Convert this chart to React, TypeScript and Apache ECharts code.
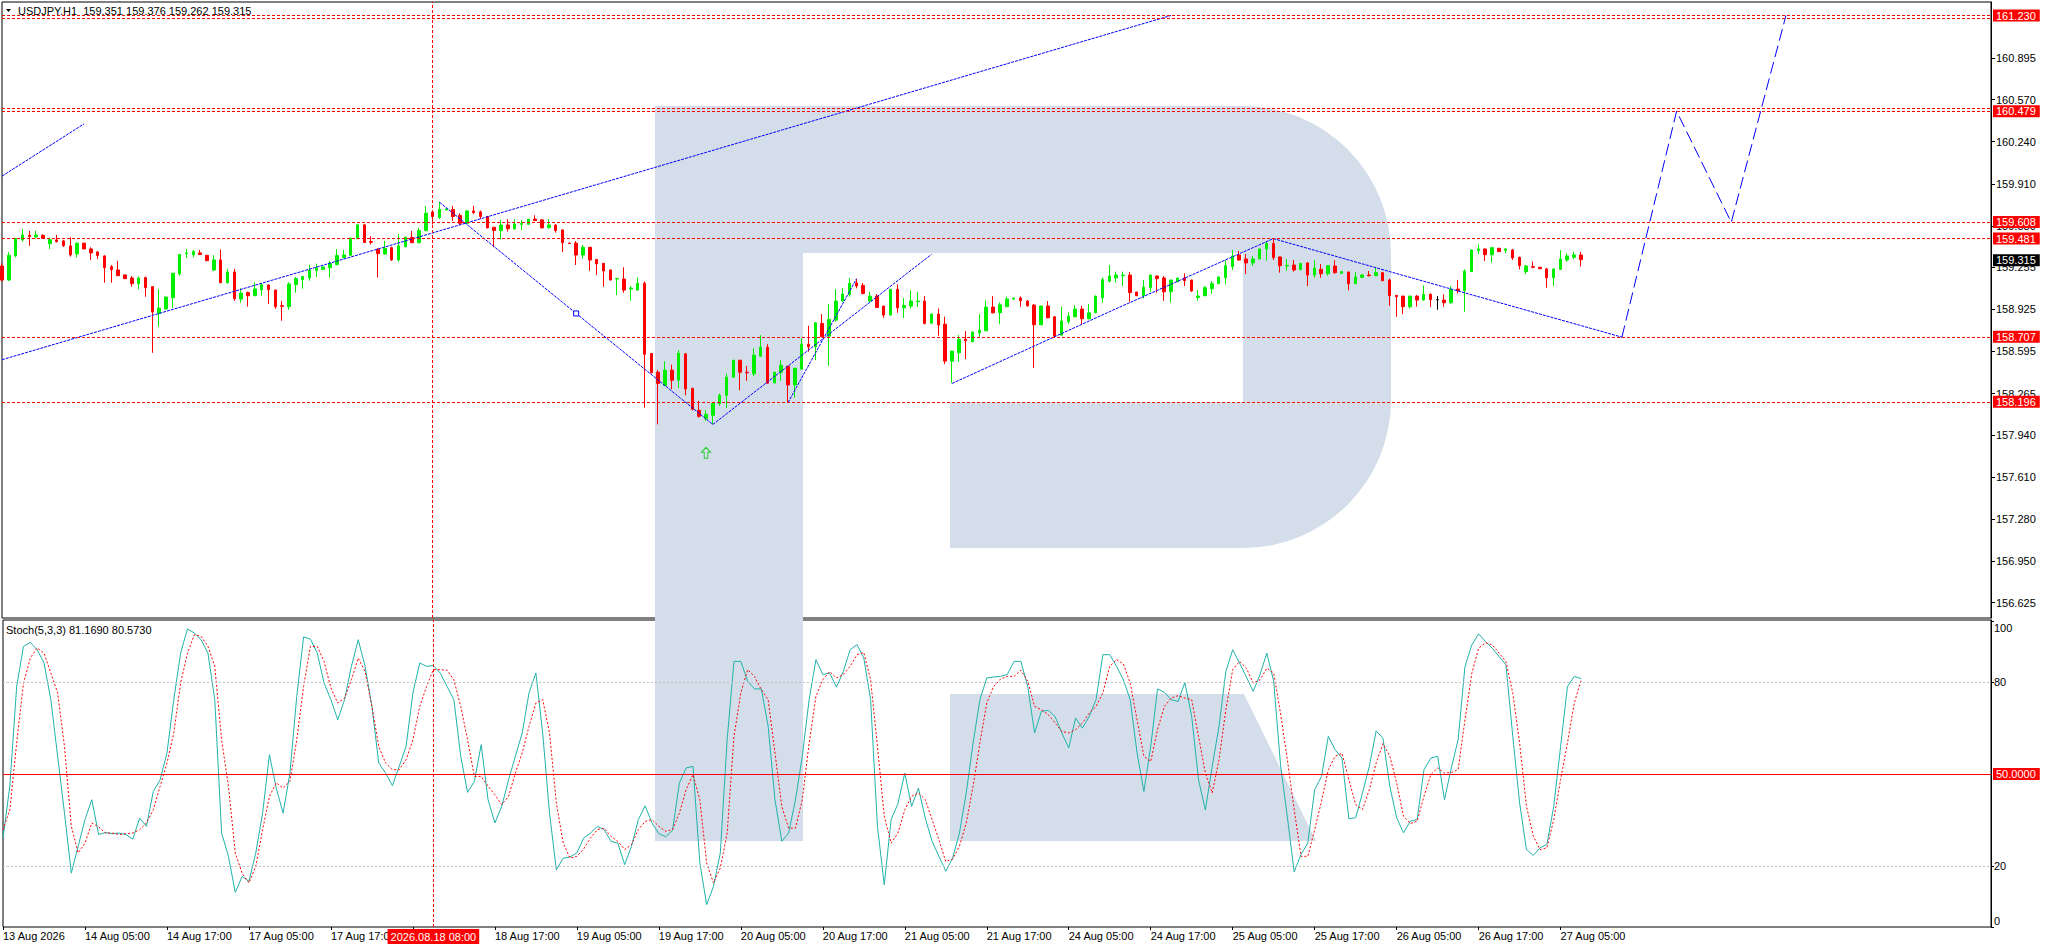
import React, { useEffect, useRef } from "react";
import * as echarts from "echarts";

// ---------- DATA ----------
const symbolName = "USDJPY.H1";

// [open, close, low, high] per H1 bar, starting 13 Aug 2026 17:00
const candles: number[][] = [
  [159.265,159.155,159.142,159.286],[159.155,159.349,159.148,159.375],[159.344,159.480,159.333,159.485],[159.470,159.509,159.457,159.556],
  [159.506,159.496,159.423,159.541],[159.493,159.509,159.483,159.541],[159.506,159.483,159.480,159.512],[159.441,159.472,159.399,159.488],
  [159.470,159.457,159.449,159.509],[159.462,159.425,159.415,159.470],[159.423,159.352,159.339,159.491],[159.360,159.444,159.333,159.449],
  [159.444,159.399,159.396,159.449],[159.399,159.368,159.313,159.412],[159.375,159.347,159.320,159.383],[159.344,159.252,159.134,159.349],
  [159.260,159.237,159.134,159.273],[159.234,159.189,159.187,159.305],[159.195,159.166,159.163,159.197],[159.171,159.127,159.103,159.187],
  [159.127,159.171,159.082,159.182],[159.174,159.095,159.024,159.182],[159.103,158.904,158.584,159.108],[158.893,158.935,158.789,159.084],
  [158.928,159.022,158.925,159.024],[159.017,159.208,158.938,159.210],[159.203,159.355,159.187,159.360],[159.362,159.368,159.328,159.399],
  [159.352,159.378,159.333,159.391],[159.368,159.355,159.352,159.391],[159.349,159.307,159.305,159.352],[159.234,159.313,159.224,159.349],
  [159.313,159.134,159.132,159.394],[159.134,159.218,159.127,159.242],[159.218,159.009,158.991,159.242],[159.006,159.053,158.977,159.090],
  [159.056,159.032,158.946,159.064],[159.032,159.085,159.030,159.137],[159.079,159.119,159.032,159.129],[159.116,159.079,158.967,159.119],
  [159.077,158.946,158.930,159.079],[158.954,158.949,158.836,158.991],[158.946,159.124,158.922,159.137],[159.119,159.166,159.056,159.179],
  [159.158,159.182,159.087,159.187],[159.171,159.234,159.150,159.276],[159.229,159.250,159.179,159.284],[159.239,159.258,159.237,159.260],
  [159.252,159.284,159.174,159.305],[159.276,159.347,159.271,159.399],[159.331,159.352,159.326,159.391],[159.349,159.483,159.344,159.488],
  [159.480,159.588,159.475,159.590],[159.588,159.449,159.446,159.590],[159.457,159.451,159.433,159.499],[159.396,159.362,159.174,159.404],
  [159.360,159.404,159.352,159.462],[159.409,159.313,159.305,159.417],[159.313,159.423,159.300,159.517],[159.417,159.491,159.412,159.496],
  [159.490,159.448,159.445,159.540],[159.448,159.543,159.443,159.566],[159.543,159.679,159.537,159.736],[159.689,159.653,159.592,159.692],
  [159.645,159.710,159.634,159.768],[159.705,159.713,159.702,159.716],[159.708,159.653,159.619,159.736],[159.661,159.600,159.587,159.679],
  [159.600,159.697,159.595,159.705],[159.697,159.684,159.674,159.736],[159.689,159.653,159.632,159.700],[159.653,159.564,159.561,159.658],
  [159.569,159.543,159.412,159.572],[159.543,159.587,159.475,159.627],[159.587,159.558,159.535,159.632],[159.556,159.595,159.553,159.632],
  [159.592,159.598,159.548,159.627],[159.592,159.632,159.590,159.634],[159.634,159.621,159.619,159.663],[159.627,159.564,159.561,159.629],
  [159.566,159.587,159.558,159.632],[159.587,159.543,159.527,159.592],[159.548,159.448,159.375,159.551],[159.445,159.441,159.438,159.448],
  [159.445,159.351,159.273,159.461],[159.351,159.412,159.323,159.430],[159.412,159.312,159.228,159.414],[159.317,159.281,159.194,159.320],
  [159.286,159.226,159.103,159.289],[159.234,159.155,159.152,159.236],[159.163,159.168,159.037,159.171],[159.163,159.076,159.055,159.255],
  [159.084,159.092,158.993,159.108],[159.076,159.129,159.074,159.176],[159.129,158.573,158.154,159.145],[158.579,158.427,158.424,158.581],
  [158.432,158.343,158.023,158.448],[158.327,158.448,158.325,158.518],[158.448,158.369,158.298,158.492],[158.369,158.581,158.309,158.605],
  [158.576,158.301,158.251,158.581],[158.306,158.141,158.133,158.309],[158.133,158.086,158.076,158.207],[158.068,158.102,158.050,158.133],
  [158.094,158.186,158.023,158.191],[158.186,158.251,158.167,158.264],[158.251,158.393,158.152,158.422],[158.393,158.526,158.390,158.529],
  [158.526,158.432,158.291,158.529],[158.432,158.427,158.364,158.482],[158.419,158.566,158.401,158.621],[158.558,158.628,158.553,158.723],
  [158.628,158.346,158.343,158.652],[158.348,158.432,158.346,158.435],[158.432,158.487,158.364,158.526],[158.479,158.332,158.194,158.482],
  [158.332,158.463,158.233,158.466],[158.456,158.652,158.453,158.699],[158.652,158.631,158.592,158.796],[158.631,158.820,158.527,158.822],
  [158.815,158.710,158.707,158.888],[158.715,158.846,158.482,158.967],[158.841,158.990,158.828,159.084],[158.990,159.045,158.985,159.092],
  [159.040,159.129,159.024,159.171],[159.132,159.108,159.090,159.166],[159.113,159.050,159.043,159.132],[158.990,159.029,158.985,159.063],
  [159.029,158.940,158.935,159.045],[158.951,158.880,158.859,158.953],[158.880,159.082,158.878,159.084],[159.082,158.938,158.898,159.121],
  [158.938,158.956,158.859,159.014],[158.951,158.990,158.930,159.074],[158.985,158.990,158.943,159.061],[158.990,158.815,158.807,159.029],
  [158.817,158.888,158.815,158.891],[158.888,158.802,158.718,158.932],[158.809,158.519,158.495,158.867],[158.519,158.597,158.348,158.600],
  [158.584,158.691,158.511,158.723],[158.691,158.678,158.534,158.754],[158.671,158.747,158.668,158.749],[158.741,158.762,158.710,158.888],
  [158.757,158.943,158.754,158.995],[158.943,158.898,158.893,159.029],[158.898,158.961,158.809,158.980],[158.946,159.006,158.943,159.024],
  [159.006,159.014,159.003,159.016],[159.014,158.993,158.946,159.027],[158.990,158.953,158.946,158.998],[158.959,158.804,158.466,158.967],
  [158.804,158.951,158.802,158.953],[158.951,158.859,158.856,158.990],[158.867,158.715,158.712,158.870],[158.723,158.833,158.715,158.946],
  [158.828,158.872,158.809,158.901],[158.867,158.927,158.864,158.959],[158.927,158.851,158.809,158.953],[158.851,158.898,158.846,158.967],
  [158.898,159.029,158.896,159.032],[159.016,159.158,158.977,159.176],[159.147,159.187,159.134,159.273],[159.171,159.194,159.134,159.221],
  [159.189,159.194,159.108,159.221],[159.194,159.056,158.985,159.218],[159.061,159.032,159.029,159.063],[159.032,159.100,159.011,159.155],
  [159.095,159.194,159.063,159.197],[159.187,159.166,159.056,159.189],[159.171,159.063,158.993,159.187],[159.063,159.155,158.977,159.158],
  [159.142,159.171,159.139,159.173],[159.171,159.150,159.108,159.208],[159.155,159.069,159.063,159.158],[159.019,159.029,158.993,159.077],
  [159.032,159.095,159.029,159.108],[159.087,159.126,159.048,159.147],[159.126,159.179,159.124,159.181],[159.173,159.268,159.121,159.310],
  [159.260,159.344,159.234,159.391],[159.352,159.312,159.310,159.383],[159.320,159.289,159.202,159.359],[159.289,159.320,159.265,159.344],
  [159.320,159.399,159.318,159.401],[159.399,159.441,159.307,159.456],[159.441,159.331,159.312,159.483],[159.336,159.268,159.213,159.339],
  [159.265,159.270,159.228,159.320],[159.273,159.234,159.221,159.312],[159.236,159.286,159.234,159.289],[159.289,159.194,159.108,159.294],
  [159.194,159.249,159.173,159.310],[159.239,159.205,159.173,159.281],[159.205,159.268,159.189,159.273],[159.265,159.213,159.205,159.310],
  [159.208,159.221,159.205,159.223],[159.218,159.126,159.074,159.221],[159.126,159.179,159.124,159.218],[159.176,159.194,159.173,159.202],
  [159.194,159.189,159.184,159.226],[159.189,159.213,159.187,159.252],[159.213,159.150,159.147,159.215],[159.155,159.032,158.953,159.166],
  [159.035,159.024,158.867,159.037],[159.029,158.946,158.888,159.032],[158.946,159.029,158.932,159.032],[159.029,158.998,158.946,159.037],
  [158.998,159.043,158.993,159.113],[159.043,159.001,158.943,159.050],[159.001,159.001,158.922,159.029],[158.998,158.977,158.946,159.043],
  [158.977,159.082,158.969,159.108],[159.084,159.071,159.050,159.155],[159.071,159.226,158.906,159.239],[159.221,159.391,159.218,159.394],
  [159.386,159.399,159.359,159.435],[159.399,159.354,159.304,159.401],[159.354,159.409,159.291,159.412],[159.404,159.378,159.375,159.407],
  [159.388,159.399,159.365,159.404],[159.391,159.328,159.312,159.399],[159.333,159.268,159.239,159.339],[159.221,159.265,159.202,159.273],
  [159.260,159.255,159.247,159.299],[159.255,159.244,159.242,159.257],[159.242,159.173,159.095,159.249],[159.173,159.242,159.108,159.244],
  [159.239,159.320,159.234,159.391],[159.312,159.344,159.299,159.365],[159.333,159.352,159.318,159.378],[159.351,159.315,159.262,159.376],
];

// Stochastic(5,3,3): main line (%K) and signal line (%D)
const stochK: number[] = [
  29.1,46.0,78.6,91.7,93.0,90.6,86.3,74.3,55.8,37.2,17.6,26.4,35.1,41.6,30.2,30.9,30.5,30.7,30.2,28.7,
  35.6,32.9,44.3,48.1,56.9,74.3,89.5,97.4,96.1,93.9,89.5,74.3,30.7,23.1,11.3,16.5,14.9,24.2,37.2,56.3,
  45.4,37.2,50.3,75.4,94.8,94.1,89.5,79.7,74.3,67.7,74.3,85.2,93.9,85.2,72.1,53.6,50.3,46.2,52.5,59.0,
  76.5,86.3,85.2,85.4,83.0,78.6,74.3,55.8,44.0,47.6,59.6,41.6,34.0,39.4,48.1,55.8,63.4,76.5,83.0,63.4,
  37.2,18.7,22.5,22.9,24.2,29.1,30.7,32.9,31.8,28.0,27.4,20.4,26.4,35.1,39.6,34.0,30.5,29.5,31.5,47.0,
  52.0,52.5,21.0,7.3,13.3,24.2,61.2,86.8,86.8,80.3,77.8,77.8,65.6,41.6,28.0,30.7,41.6,55.8,74.3,87.4,
  82.5,83.0,78.4,83.5,90.6,92.3,87.9,74.3,32.9,13.8,35.1,40.3,50.3,39.4,45.4,35.6,28.0,23.1,18.2,22.5,
  30.7,43.8,60.1,74.3,81.4,81.7,81.9,82.5,86.8,86.8,78.6,63.4,70.5,70.8,68.8,63.4,58.5,68.3,65.0,68.8,
  74.3,89.0,89.0,85.2,80.8,74.3,56.9,44.3,59.0,77.8,76.7,74.3,73.7,79.9,68.8,48.1,38.3,52.5,65.6,83.5,
  90.6,86.3,81.7,77.0,82.5,89.5,80.3,53.0,36.0,18.0,23.7,27.5,44.9,49.2,62.3,57.9,55.2,35.4,35.7,43.8,
  52.5,64.1,61.7,46.0,35.7,30.8,34.6,35.1,51.4,55.2,55.8,41.6,52.0,61.2,85.1,92.2,95.8,93.3,91.1,88.4,
  85.7,62.3,40.5,25.3,23.4,25.9,27.0,39.5,59.0,78.6,81.9,81.169,
];
const stochD: number[] = [
  31.8,38.3,60.1,79.7,87.9,91.2,89.5,83.0,76.5,59.0,32.9,24.2,27.4,34.0,32.7,30.7,30.7,30.2,30.5,30.7,
  31.8,34.0,38.3,46.0,53.6,63.4,79.7,89.5,95.5,95.0,91.7,85.2,61.2,46.0,24.2,17.6,14.4,19.8,31.8,42.7,
  47.1,45.4,47.6,61.2,78.6,91.7,91.7,86.8,78.1,73.2,74.8,80.8,87.9,83.5,72.1,59.0,53.6,51.4,51.4,54.7,
  61.2,72.1,78.6,84.1,84.1,83.9,80.8,72.1,61.2,49.2,49.2,46.0,43.2,40.0,42.7,50.3,56.9,65.6,73.2,74.3,
  63.4,40.5,27.4,22.5,23.1,25.5,29.1,31.8,32.3,29.6,28.0,25.3,26.9,31.8,34.5,35.1,32.9,31.3,31.8,37.2,
  44.9,49.8,41.6,20.9,14.4,19.3,30.7,62.3,76.5,84.1,81.9,77.6,74.3,56.9,39.4,32.3,32.3,41.6,60.1,75.4,
  80.8,83.5,81.4,82.5,85.2,89.0,89.7,80.8,59.0,36.2,27.4,30.7,38.3,42.7,43.8,41.6,35.1,28.5,21.4,22.2,
  26.4,34.0,46.0,60.1,73.2,78.6,81.0,81.9,81.9,83.9,80.3,72.1,71.0,69.4,66.7,63.9,63.4,64.5,66.7,69.9,
  72.1,76.5,85.2,87.4,86.0,79.7,67.7,55.8,54.1,64.5,72.1,74.8,75.6,74.8,74.3,62.3,50.3,43.8,54.7,71.0,
  84.1,86.8,84.6,79.7,80.8,84.6,83.0,69.9,54.7,38.4,23.1,23.1,31.8,41.1,51.4,55.8,56.8,48.2,40.0,38.4,
  44.9,53.6,59.9,55.8,47.1,36.2,33.8,34.6,42.7,49.8,52.0,50.3,50.5,51.4,67.7,82.9,91.1,92.9,92.2,89.5,
  86.7,76.4,60.1,39.5,29.7,25.3,25.9,35.1,48.2,60.1,73.2,80.573,
];

const priceTicks = [156.625,156.950,157.280,157.610,157.940,158.265,158.595,158.925,159.255,159.580,159.910,160.240,160.570,160.895];
const stochTicks = [0, 20, 80, 100];
const xTickLabels = [
  "13 Aug 2026","14 Aug 05:00","14 Aug 17:00","17 Aug 05:00","17 Aug 17:00","18 Aug 05:00","18 Aug 17:00",
  "19 Aug 05:00","19 Aug 17:00","20 Aug 05:00","20 Aug 17:00","21 Aug 05:00","21 Aug 17:00","24 Aug 05:00",
  "24 Aug 17:00","25 Aug 05:00","25 Aug 17:00","26 Aug 05:00","26 Aug 17:00","27 Aug 05:00",
];

// horizontal levels (labelled) and their twin lines
const levels = [161.230, 160.479, 159.608, 159.481, 158.707, 158.196];
const twinLevels = [161.210, 160.495];
const currentPrice = 159.315;
const crosshairIndex = 63;
const crosshairLabel = "2026.08.18 08:00";

// drawn objects: [bar index, price]
const trendLong = [[0, 158.53], [171, 161.23]];
const trendShort = [[0, 159.97], [12, 160.38]];
const zig1 = [[64, 159.766], [84, 158.893], [104, 158.022]];
const zig2 = [[104, 158.022], [136, 159.357]];
const zig3 = [[115, 158.194], [125, 159.163]];
const zig4 = [[139, 158.344], [163, 158.93], [186, 159.48]];
const zig5 = [[186, 159.48], [211, 159.10], [237, 158.707]];
const forecast = [[237, 158.707], [241, 159.593], [245, 160.479], [253, 159.608], [257, 160.419], [261, 161.230]];
const arrowUp = [[103, 157.80]];

const TOTAL_SLOTS = 292;

// ---------- HELPERS ----------
const MONTHS = ["Jan","Feb","Mar","Apr","May","Jun","Jul","Aug","Sep","Oct","Nov","Dec"];
function buildCategories(n: number): string[] {
  const out: string[] = [];
  let t = Date.UTC(2026, 7, 13, 17);
  for (let i = 0; i < n; i++) {
    const d = new Date(t);
    out.push(`${d.getUTCDate()} ${MONTHS[d.getUTCMonth()]} ${String(d.getUTCHours()).padStart(2, "0")}:00`);
    t += 3600000;
    while ([0, 6].includes(new Date(t).getUTCDay())) t += 3600000;
  }
  return out;
}

const FONT = '"Liberation Sans", Arial, sans-serif';
const LOGO = "#d3deea";
const BLUE = "#0000ff";

export default function App() {
  const ref = useRef<HTMLDivElement>(null);

  useEffect(() => {
    if (!ref.current) return;
    const chart = echarts.init(ref.current, undefined, { renderer: "svg" });
    const categories = buildCategories(TOTAL_SLOTS);
    const last = candles[candles.length - 1];

    const candleData = candles.map((c) =>
      c[0] === c[1]
        ? { value: c, itemStyle: { color: "#000", color0: "#000", borderColor: "#000", borderColor0: "#000" } }
        : c
    );

    const showTick = (i: number) => i % 12 === 0 && i / 12 < xTickLabels.length;
    // the label under the crosshair box is hidden, as in the terminal
    const showLabel = (i: number) => showTick(i) && Math.abs(i - crosshairIndex) > 6;

    const levelLabel = (bg: string, text: string) => ({
      show: true,
      position: "end",
      distance: 2,
      formatter: () => text,
      color: "#fff",
      backgroundColor: bg,
      fontFamily: FONT,
      fontSize: 11,
      lineHeight: 12,
      padding: [0, 4, 0, 3],
    });

    const drawLine = (data: number[][], withSymbols: boolean, dashed: any, name: string) => ({
      name,
      type: "line",
      xAxisIndex: 0,
      yAxisIndex: 0,
      data,
      z: 4,
      silent: true,
      showSymbol: withSymbols,
      symbol: "rect",
      symbolSize: 5,
      itemStyle: { color: "#fff", borderColor: BLUE, borderWidth: 1 },
      lineStyle: { color: BLUE, width: 1, type: dashed },
      clip: true,
    });

    const option: any = {
      animation: false,
      backgroundColor: "#fff",
      grid: [
        { left: 2, top: 2, width: 1989, height: 616, show: true, borderColor: "#000", borderWidth: 1, backgroundColor: "transparent" },
        { left: 2, top: 620, width: 1989, height: 307, show: true, borderColor: "#000", borderWidth: 1, backgroundColor: "transparent" },
      ],
      xAxis: [
        { type: "category", gridIndex: 0, data: categories, boundaryGap: false, show: false },
        {
          type: "category",
          gridIndex: 1,
          data: categories,
          boundaryGap: false,
          axisLine: { show: false },
          axisTick: { show: true, interval: (i: number) => showTick(i), length: 3, lineStyle: { color: "#000" } },
          axisLabel: {
            interval: (i: number) => showLabel(i),
            formatter: (_v: string, i: number) => (showLabel(i) ? xTickLabels[i / 12] : ""),
            align: "left",
            margin: 3,
            color: "#000",
            fontFamily: FONT,
            fontSize: 11,
          },
          splitLine: { show: false },
        },
      ],
      yAxis: [
        {
          type: "value",
          gridIndex: 0,
          position: "right",
          min: 156.504,
          max: 161.336,
          axisLine: { show: true, lineStyle: { color: "#000" } },
          axisTick: { show: true, customValues: priceTicks, length: 4, lineStyle: { color: "#000" } },
          axisLabel: {
            customValues: priceTicks,
            formatter: (v: number) => v.toFixed(3),
            margin: 5,
            color: "#000",
            fontFamily: FONT,
            fontSize: 11,
          },
          splitLine: { show: false },
        },
        {
          type: "value",
          gridIndex: 1,
          position: "right",
          min: 0,
          max: 100.33,
          axisLine: { show: true, lineStyle: { color: "#000" } },
          axisTick: { show: true, customValues: stochTicks, length: 3, lineStyle: { color: "#000" } },
          axisLabel: {
            customValues: stochTicks,
            formatter: (v: number) => (v === 100 ? "{a|100}" : v === 0 ? "{b|0}" : String(v)),
            margin: 3,
            color: "#000",
            fontFamily: FONT,
            fontSize: 11,
            rich: {
              a: { padding: [13, 0, 0, 0], fontFamily: FONT, fontSize: 11, color: "#000" },
              b: { padding: [0, 0, 12, 0], fontFamily: FONT, fontSize: 11, color: "#000" },
            },
          },
          splitLine: { show: false },
        },
      ],
      graphic: [
        { type: "rect", z: 0, silent: true, shape: { x: 655, y: 106, width: 148, height: 735 }, style: { fill: LOGO } },
        { type: "rect", z: 0, silent: true, shape: { x: 802, y: 106, width: 442, height: 147 }, style: { fill: LOGO } },
        { type: "rect", z: 0, silent: true, shape: { x: 950, y: 402, width: 294, height: 146 }, style: { fill: LOGO } },
        { type: "rect", z: 0, silent: true, shape: { x: 1243, y: 106, width: 148, height: 442, r: [0, 148, 148, 0] }, style: { fill: LOGO } },
        { type: "polygon", z: 0, silent: true, shape: { points: [[950, 694], [1244, 694], [1316, 841], [950, 841]] }, style: { fill: LOGO } },
        { type: "polygon", z: 10, silent: true, shape: { points: [[6, 9], [11, 9], [8.5, 12]] }, style: { fill: "#000" } },
        {
          type: "text", z: 10, silent: true, x: 18, y: 11,
          style: {
            text: `${symbolName}  ${last[0].toFixed(3)} ${last[3].toFixed(3)} ${last[2].toFixed(3)} ${last[1].toFixed(3)}`,
            fill: "#000", font: `11px ${FONT}`, verticalAlign: "middle",
          },
        },
        {
          type: "text", z: 10, silent: true, x: 6, y: 630,
          style: {
            text: `Stoch(5,3,3) ${stochK[stochK.length - 1].toFixed(4)} ${stochD[stochD.length - 1].toFixed(4)}`,
            fill: "#000", font: `11px ${FONT}`, verticalAlign: "middle",
          },
        },
      ],
      series: [
        {
          name: "USDJPY",
          type: "candlestick",
          xAxisIndex: 0,
          yAxisIndex: 0,
          data: candleData,
          barWidth: 3,
          silent: true,
          itemStyle: { color: "#00ee00", color0: "#ff0000", borderColor: "#00ee00", borderColor0: "#ff0000", borderWidth: 1 },
          markLine: {
            silent: true,
            symbol: ["none", "none"],
            animation: false,
            data: [
              ...levels.map((v) => ({
                yAxis: v,
                lineStyle: { color: "#ff0000", width: 1, type: [3, 2] },
                label: levelLabel("#ff0000", v.toFixed(3)),
              })),
              ...twinLevels.map((v) => ({ yAxis: v, lineStyle: { color: "#ff0000", width: 1, type: [3, 2] }, label: { show: false } })),
              {
                yAxis: currentPrice,
                lineStyle: { color: "rgba(0,0,0,0)", width: 1 },
                label: levelLabel("#000000", currentPrice.toFixed(3)),
              },
              { xAxis: crosshairIndex, lineStyle: { color: "#ff0000", width: 1, type: [3, 2] }, label: { show: false } },
            ],
          },
        },
        drawLine(trendLong, false, [3, 1], "trendLong"),
        drawLine(trendShort, false, [3, 1], "trendShort"),
        drawLine(zig1, true, [3, 1], "zig1"),
        drawLine(zig2, true, [3, 1], "zig2"),
        drawLine(zig3, false, [3, 1], "zig3"),
        drawLine(zig4, true, [3, 1], "zig4"),
        drawLine(zig5, true, [3, 1], "zig5"),
        drawLine(forecast, true, [12, 5], "forecast"),
        {
          name: "arrow",
          type: "scatter",
          xAxisIndex: 0,
          yAxisIndex: 0,
          data: arrowUp,
          z: 5,
          silent: true,
          symbol: "path://M5,0 L10,5 L7,5 L7,11 L3,11 L3,5 L0,5 Z",
          symbolSize: [9, 11],
          itemStyle: { color: "rgba(0,0,0,0)", borderColor: "#00c800", borderWidth: 1 },
        },
        {
          name: "%K",
          type: "line",
          xAxisIndex: 1,
          yAxisIndex: 1,
          data: stochK,
          showSymbol: false,
          silent: true,
          z: 3,
          lineStyle: { color: "#20b2aa", width: 1 },
          markLine: {
            silent: true,
            symbol: ["none", "none"],
            animation: false,
            data: [
              { yAxis: 80, lineStyle: { color: "#c0c0c0", width: 1, type: [2, 2] }, label: { show: false } },
              { yAxis: 20, lineStyle: { color: "#c0c0c0", width: 1, type: [2, 2] }, label: { show: false } },
              {
                yAxis: 50,
                lineStyle: { color: "#ff0000", width: 1, type: "solid" },
                label: levelLabel("#ff0000", "50.0000"),
              },
              {
                xAxis: crosshairIndex,
                lineStyle: { color: "#ff0000", width: 1, type: [3, 2] },
                label: {
                  show: true,
                  position: "start",
                  distance: 2,
                  formatter: () => crosshairLabel,
                  color: "#fff",
                  backgroundColor: "#ff0000",
                  fontFamily: FONT,
                  fontSize: 11,
                  lineHeight: 13,
                  padding: [1, 3, 1, 3],
                },
              },
            ],
          },
        },
        {
          name: "%D",
          type: "line",
          xAxisIndex: 1,
          yAxisIndex: 1,
          data: stochD,
          showSymbol: false,
          silent: true,
          z: 3,
          lineStyle: { color: "#ff0000", width: 1, type: [2, 2] },
        },
      ],
    };

    chart.setOption(option);
    return () => chart.dispose();
  }, []);

  return (
    <div
      ref={ref}
      style={{ position: "fixed", left: 0, top: 0, width: 2046, height: 948, background: "#fff" }}
    />
  );
}
